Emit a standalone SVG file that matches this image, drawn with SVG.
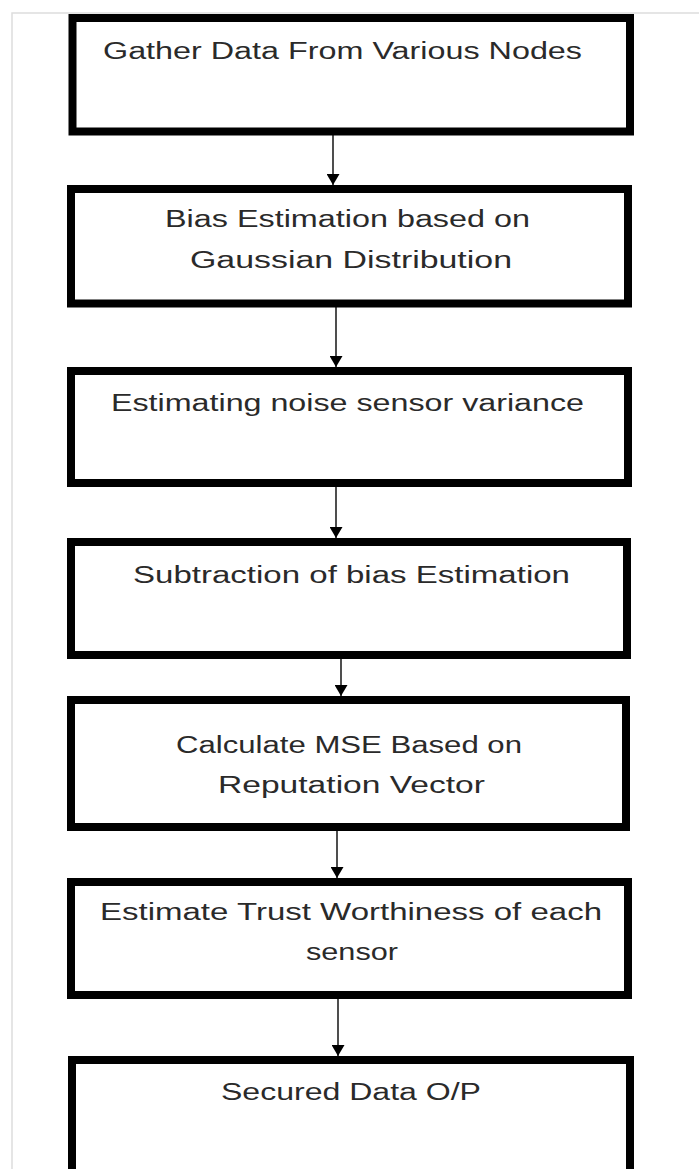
<svg xmlns="http://www.w3.org/2000/svg" width="699" height="1169" viewBox="0 0 699 1169">
<style>
.box{fill:#fff;stroke:#000;stroke-width:8}
.t{font-family:"Liberation Sans",Arial,sans-serif;font-size:23.5px;fill:#2a2a2a}
.c{stroke:#222;stroke-width:1.6;fill:none}
</style>
<defs>
<marker id="ah" markerUnits="userSpaceOnUse" markerWidth="11" markerHeight="13" refX="11" refY="6.5" orient="auto">
<path d="M0,0 L11,6.5 L0,13 Z" fill="#000"/>
</marker>
</defs>
<rect width="699" height="1169" fill="#fff"/>
<path d="M12,1169 V13 H699" fill="none" stroke="#ddd" stroke-width="1.5"/>
<g id="connectors">
<line class="c" x1="333" y1="135" x2="333" y2="185" marker-end="url(#ah)"/>
<line class="c" x1="336" y1="307" x2="336" y2="367" marker-end="url(#ah)"/>
<line class="c" x1="336" y1="487" x2="336" y2="538" marker-end="url(#ah)"/>
<line class="c" x1="341" y1="659" x2="341" y2="696" marker-end="url(#ah)"/>
<line class="c" x1="337" y1="831" x2="337" y2="878" marker-end="url(#ah)"/>
<line class="c" x1="338" y1="999" x2="338" y2="1056" marker-end="url(#ah)"/>
</g>
<g id="n1">
<rect class="box" x="72.5" y="18" width="557.5" height="113.5"/>
<text class="t" x="103" y="59" textLength="479" lengthAdjust="spacingAndGlyphs">Gather Data From Various Nodes</text>
</g>
<g id="n2">
<rect class="box" x="71" y="189" width="557" height="114.5"/>
<text class="t" x="165" y="227" textLength="365" lengthAdjust="spacingAndGlyphs">Bias Estimation based on</text>
<text class="t" x="190" y="268" textLength="322" lengthAdjust="spacingAndGlyphs">Gaussian Distribution</text>
</g>
<g id="n3">
<rect class="box" x="71" y="371" width="557" height="112"/>
<text class="t" x="111" y="411" textLength="473" lengthAdjust="spacingAndGlyphs">Estimating noise sensor variance</text>
</g>
<g id="n4">
<rect class="box" x="71" y="542" width="556" height="113"/>
<text class="t" x="133" y="583" textLength="437" lengthAdjust="spacingAndGlyphs">Subtraction of bias Estimation</text>
</g>
<g id="n5">
<rect class="box" x="71" y="700" width="555" height="127"/>
<text class="t" x="176" y="753" textLength="346" lengthAdjust="spacingAndGlyphs">Calculate MSE Based on</text>
<text class="t" x="218" y="793" textLength="267" lengthAdjust="spacingAndGlyphs">Reputation Vector</text>
</g>
<g id="n6">
<rect class="box" x="71" y="882" width="557" height="113"/>
<text class="t" x="100" y="920" textLength="502" lengthAdjust="spacingAndGlyphs">Estimate Trust Worthiness of each</text>
<text class="t" x="306" y="960" textLength="92" lengthAdjust="spacingAndGlyphs">sensor</text>
</g>
<g id="n7">
<rect class="box" x="72" y="1060" width="558" height="140"/>
<text class="t" x="221" y="1100" textLength="260" lengthAdjust="spacingAndGlyphs">Secured Data O/P</text>
</g>
</svg>
